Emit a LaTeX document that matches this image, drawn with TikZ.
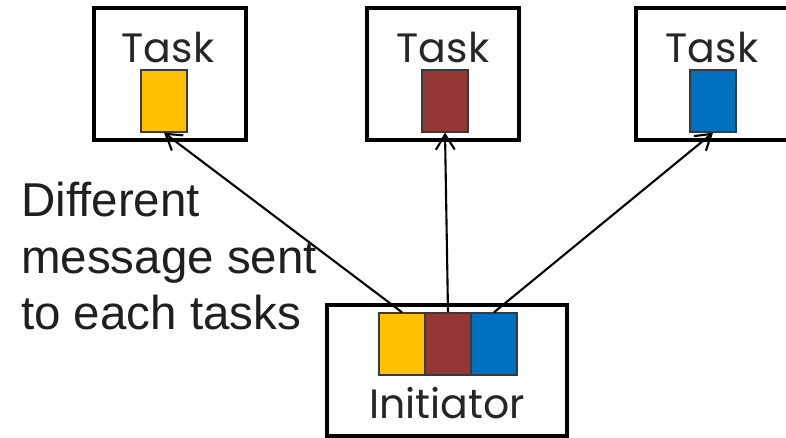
\documentclass[tikz,border=0pt]{standalone}
\usepackage{fontspec}
\setmainfont{Liberation Sans}
\newfontfamily\gothic{Poppins}
\usetikzlibrary{arrows.meta}
\definecolor{msgyellow}{HTML}{FFC000}
\definecolor{msgbrown}{HTML}{953735}
\definecolor{msgblue}{HTML}{0070C0}
\definecolor{msgedge}{HTML}{3A3A3A}
\begin{document}
\begin{tikzpicture}[x=1pt,y=-1pt,
  taskbox/.style={draw=black,line width=3.2pt,minimum width=152pt,minimum height=132pt,inner sep=0pt},
  msg/.style={draw=msgedge,line width=1.4pt,minimum width=46pt,minimum height=62pt,inner sep=0pt},
  lbl/.style={font=\gothic\fontsize{41}{50}\selectfont,text=black!85,inner sep=0pt},
  send/.style={line width=2.1pt,-{Straight Barb[length=15pt,width=19pt,line width=2.1pt]}}]
\clip (0,0) rectangle (786,438);
\fill[white] (0,0) rectangle (786,438);

% receiving tasks
\node[taskbox] (t1) at (170,74) {};
\node[taskbox] (t2) at (443,74) {};
\node[taskbox] (t3) at (712,74) {};
\node[lbl,anchor=base] (l1) at (168,63) {Task};
\node[lbl,anchor=base] (l2) at (443,63) {Task};
\node[lbl,anchor=base] (l3) at (712,63) {Task};
\node[msg,fill=msgyellow] (m1) at (164,101) {};
\node[msg,fill=msgbrown] (m2) at (445,101) {};
\node[msg,fill=msgblue] (m3) at (713,101) {};

% initiator with its three messages
\node[taskbox,minimum width=240pt,minimum height=131pt] (ini) at (447,370.5) {};
\node[msg,fill=msgyellow] (s1) at (402,344) {};
\node[msg,fill=msgbrown] (s2) at (448,344) {};
\node[msg,fill=msgblue] (s3) at (494,344) {};
\node[lbl,anchor=base] (il) at (447,418) {Initiator};

% messages sent
\draw[send] (s1.north) -- (m1.south);
\draw[send] (s2.north) -- (m2.south);
\draw[send] (s3.north) -- (m3.south);

% caption
\node[anchor=north west,align=left,inner sep=0pt,text=black!88,
  font=\fontsize{47.5}{56.5}\selectfont] (cap) at (21,182)
  {Different\\message sent\\to each tasks};
\end{tikzpicture}
\end{document}
